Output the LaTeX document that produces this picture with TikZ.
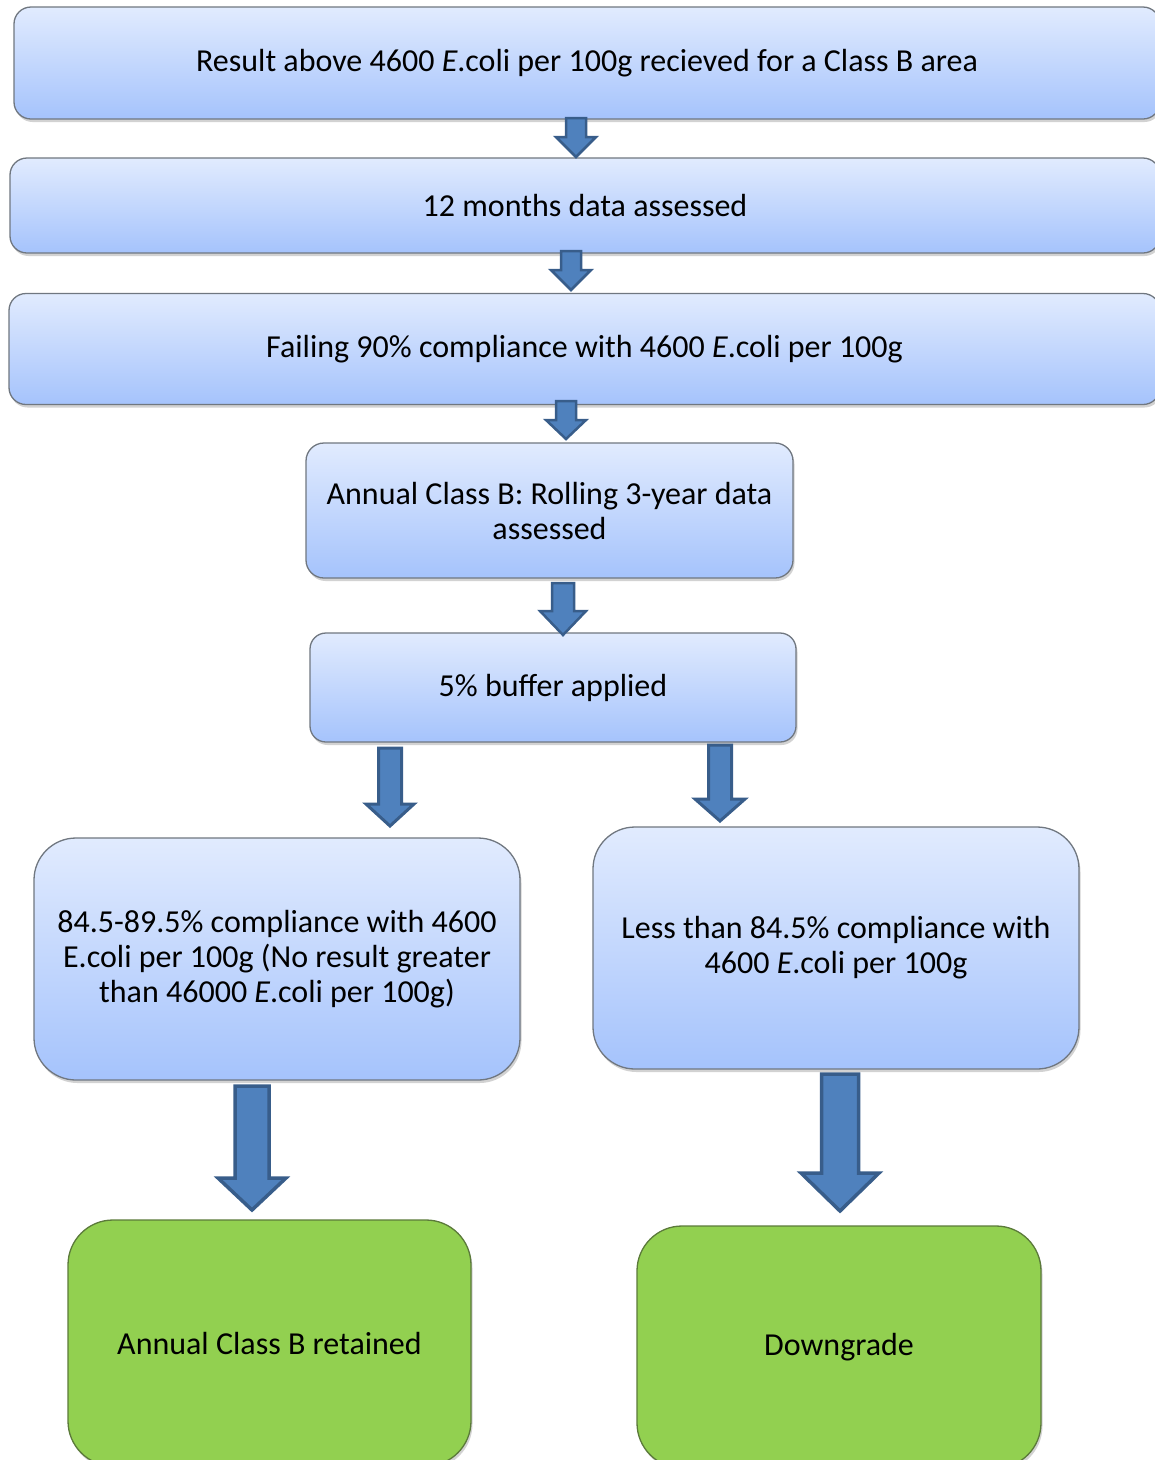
\documentclass[tikz,border=0pt]{standalone}
\usepackage{fontspec}
\setmainfont{Carlito}
\usetikzlibrary{shadows}
\definecolor{boxtop}{HTML}{E1EBFE}
\definecolor{boxbot}{HTML}{A5C3FC}
\definecolor{boxborder}{HTML}{707780}
\definecolor{greenfill}{HTML}{92D050}
\definecolor{greenborder}{HTML}{5B7A3A}
\definecolor{arrowfill}{HTML}{4F81BD}
\definecolor{arrowdraw}{HTML}{385D8A}
\newcommand\bluearrow[7]{%
  \draw[arrowstyle, line width=#7]
    (#1-#5/2,#2) -- (#1+#5/2,#2) -- (#1+#5/2,#3) -- (#1+#6/2,#3) -- (#1,#4)
    -- (#1-#6/2,#3) -- (#1-#5/2,#3) -- cycle;}
\begin{document}
\begin{tikzpicture}[x=1pt,y=-1pt,
  boxtext/.style={inner sep=0pt, align=center, font=\fontsize{32}{35}\selectfont},
  bluebox/.style={boxtext, draw=boxborder, line width=1.3pt, top color=boxtop, bottom color=boxbot,
    rounded corners=#1, drop shadow={shadow xshift=1.5pt, shadow yshift=-3pt, opacity=0.35}},
  greenbox/.style={boxtext, draw=greenborder, line width=1.3pt, fill=greenfill,
    rounded corners=#1, drop shadow={shadow xshift=1.5pt, shadow yshift=-3pt, opacity=0.35}},
  arrowstyle/.style={fill=arrowfill, draw=arrowdraw, line join=miter}]
\useasboundingbox (0,0) rectangle (1155,1460);
\clip (0,0) rectangle (1155,1460);
\fill[white] (0,0) rectangle (1155,1460);

\node[bluebox=17, minimum width=1146pt, minimum height=112pt] (b1) at (587,63)
  {Result above 4600 \textit{E}.coli per 100g recieved for a Class B area};
\node[bluebox=17, minimum width=1150pt, minimum height=95pt] (b2) at (585,205.5)
  {12 months data assessed};
\node[bluebox=17, minimum width=1151pt, minimum height=111pt] (b3) at (584.5,349)
  {Failing 90\% compliance with 4600 \textit{E}.coli per 100g};
\node[bluebox=18, minimum width=487pt, minimum height=135pt] (b4) at (549.5,510.5)
  {Annual Class B: Rolling 3-year data\\assessed};
\node[bluebox=16, minimum width=486pt, minimum height=109pt] (b5) at (553,687.5)
  {5\% buffer applied};
\node[bluebox=42, minimum width=486pt, minimum height=242pt] (b6) at (277,959)
  {84.5-89.5\% compliance with 4600\\E.coli per 100g (No result greater\\than 46000 \textit{E}.coli per 100g)};
\node[bluebox=42, minimum width=486pt, minimum height=242pt] (b7) at (836,948)
  {Less than 84.5\% compliance with\\4600 \textit{E}.coli per 100g};
\node[greenbox=45, minimum width=403pt, minimum height=246pt] (g1) at (269.5,1343)
  {Annual Class B retained};
\node[greenbox=45, minimum width=404pt, minimum height=242pt] (g2) at (839,1347)
  {Downgrade};

\bluearrow{576}{118}{137}{157}{20}{40}{2.5pt}
\bluearrow{571}{251}{270}{290}{20}{40}{2.5pt}
\bluearrow{566}{401}{420}{439}{20}{40}{2.5pt}
\bluearrow{563}{583}{611}{635}{22}{46}{2.5pt}
\bluearrow{390}{748}{804}{826}{23}{48}{3pt}
\bluearrow{720}{745}{799}{821}{23}{50}{3pt}
\bluearrow{252}{1086}{1178}{1210}{34}{68}{3.5pt}
\bluearrow{840}{1074}{1173}{1211}{37}{78}{3.5pt}
\end{tikzpicture}
\end{document}
